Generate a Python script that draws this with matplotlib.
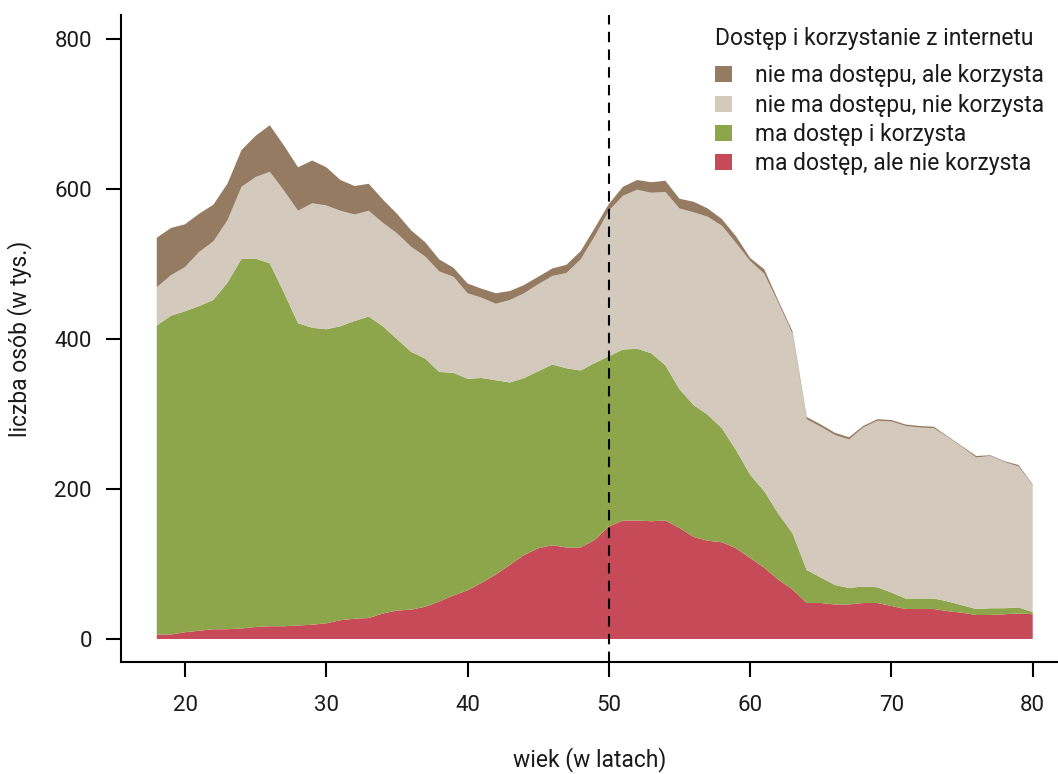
"""
Stacked area chart: internet access and use by age (w tys. osob).
"""

import matplotlib
matplotlib.use("Agg")
import matplotlib.pyplot as plt
from matplotlib.patches import Patch

plt.rcParams["font.family"] = ["Roboto", "DejaVu Sans"]

AGES = list(range(18, 81))

# ma dostep, ale nie korzysta
ACCESS_NO_USE = [6, 6, 9, 11, 13, 13, 14, 16, 17, 17,
                 18, 19, 21, 25, 27, 28, 34, 38, 39, 43,
                 50, 58, 65, 75, 86, 99, 112, 121, 125, 122,
                 122, 132, 150, 158, 158, 157, 158, 148, 136, 131,
                 129, 121, 108, 95, 79, 66, 48, 48, 46, 46,
                 48, 48, 44, 40, 40, 40, 37, 35, 32, 32,
                 33, 34, 33]
# ma dostep i korzysta
ACCESS_USE = [412, 425, 428, 433, 439, 462, 493, 491, 484, 445,
              403, 396, 392, 392, 397, 402, 383, 362, 344, 331,
              306, 297, 282, 273, 259, 243, 236, 236, 241, 239,
              236, 236, 227, 228, 229, 224, 207, 185, 176, 168,
              152, 131, 111, 102, 88, 75, 44, 34, 26, 22,
              22, 21, 18, 14, 14, 14, 13, 10, 8, 9,
              8, 8, 3]
# nie ma dostepu, nie korzysta
NO_ACCESS_NO_USE = [51, 54, 59, 72, 78, 83, 96, 109, 122, 136,
                    150, 166, 165, 154, 142, 141, 138, 141, 140, 136,
                    134, 128, 114, 107, 102, 110, 113, 116, 118, 127,
                    148, 169, 194, 205, 212, 214, 231, 241, 257, 264,
                    270, 276, 285, 290, 281, 266, 201, 201, 200, 198,
                    212, 222, 228, 230, 228, 227, 219, 211, 202, 203,
                    195, 188, 169]
# nie ma dostepu, ale korzysta
NO_ACCESS_USE = [66, 63, 57, 51, 49, 49, 49, 55, 62, 60,
                 58, 57, 51, 41, 38, 36, 31, 26, 22, 19,
                 16, 12, 13, 12, 14, 12, 11, 10, 10, 11,
                 11, 11, 9, 12, 13, 14, 15, 13, 14, 11,
                 9, 9, 4, 6, 3, 3, 3, 3, 3, 3,
                 2, 2, 2, 2, 2, 2, 1, 1, 2, 1,
                 1, 2, 1]

LABELS = ["ma dostęp, ale nie korzysta", "ma dostęp i korzysta",
          "nie ma dostępu, nie korzysta", "nie ma dostępu, ale korzysta"]
COLORS = ["#C64A58", "#8EA64B", "#D3CABD", "#967B63"]
LEGEND_TITLE = "Dostęp i korzystanie z internetu"

XTICKS = [20, 30, 40, 50, 60, 70, 80]
YTICKS = [0, 200, 400, 600, 800]

TXT = "#1a1a1a"
W, H = 1058, 774

fig = plt.figure(figsize=(W / 100, H / 100), dpi=100)
ax = fig.add_axes([0.1144, 0.1447, 0.8856, 0.8359])

ax.stackplot(AGES, ACCESS_NO_USE, ACCESS_USE, NO_ACCESS_NO_USE, NO_ACCESS_USE,
             colors=COLORS, linewidth=0)
ax.axvline(50, color="black", lw=1.5, ls=(0, (5, 3.5)))

ax.set_xlim(15.47, 81.79)
ax.set_ylim(-30.7, 832)
ax.set_xticks(XTICKS)
ax.set_yticks(YTICKS)
ax.spines[["top", "right"]].set_visible(False)
for s in ("left", "bottom"):
    ax.spines[s].set_linewidth(1.5)
ax.tick_params(axis="both", length=11, width=1.5, labelsize=16,
               color="black", labelcolor=TXT)
ax.tick_params(axis="x", pad=13)
ax.tick_params(axis="y", pad=10)

ax.set_xlabel("wiek (w latach)", fontsize=16.5, color=TXT, va="center")
ax.xaxis.set_label_coords(0.5, -0.150)
ax.set_ylabel("liczba osób (w tys.)", fontsize=16.5, color=TXT, va="center")
ax.yaxis.set_label_coords(-0.1078, 0.5)

# legend title drawn on its own so the gap to the first row matches
fig.text(715 / W, 1 - 38 / H, LEGEND_TITLE, fontsize=16.5, color=TXT,
         ha="left", va="center")
handles = [Patch(facecolor=c, edgecolor="none") for c in COLORS][::-1]
leg = ax.legend(handles, LABELS[::-1],
                loc="upper left", bbox_to_anchor=(704 / W, 1 - 53 / H),
                bbox_transform=fig.transFigure, frameon=False, fontsize=16.5,
                handlelength=0.72, handleheight=0.7,
                handletextpad=1.0, labelspacing=0.27, borderpad=0)
for t in leg.get_texts():
    t.set_color(TXT)

fig.savefig("out.png", dpi=100)
